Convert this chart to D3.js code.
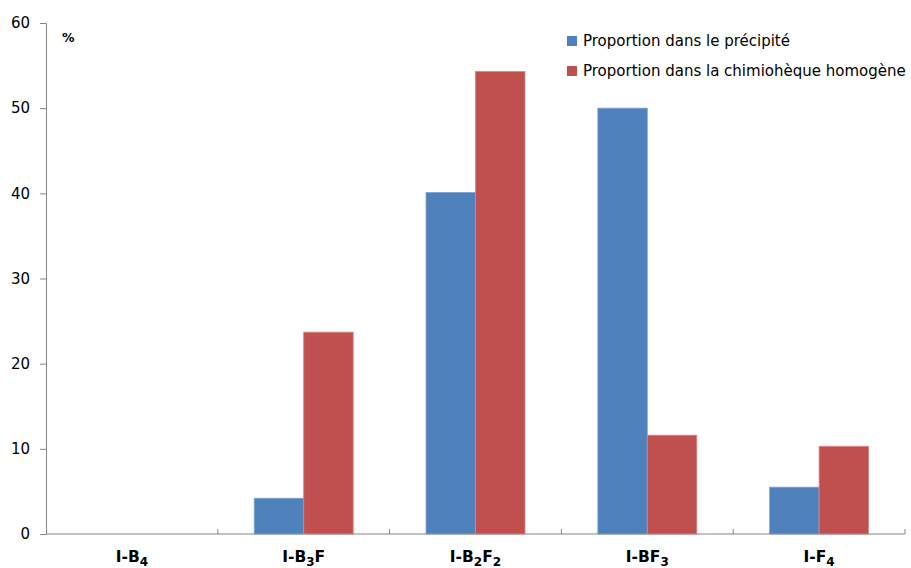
<!DOCTYPE html>
<html><head><meta charset="utf-8">
<script src="https://cdn.jsdelivr.net/npm/d3@7"></script>
<style>body{margin:0;background:#fff}svg{display:block}text{font-family:"DejaVu Sans",Verdana,sans-serif}</style>
</head><body>
<script>
const categories = ["I-B4", "I-B3F", "I-B2F2", "I-BF3", "I-F4"];
// label parts: [text, isSubscript]
const categoryLabels = [
  [["I-B",0],["4",1]],
  [["I-B",0],["3",1],["F",0]],
  [["I-B",0],["2",1],["F",0],["2",1]],
  [["I-BF",0],["3",1]],
  [["I-F",0],["4",1]]
];
const seriesNames = ["Proportion dans le précipité", "Proportion dans la chimiohèque homogène"];
const precipite = [0, 4.2, 40.1, 50.0, 5.5];
const chimiotheque = [0, 23.7, 54.3, 11.6, 10.3];
const yTicks = [0, 10, 20, 30, 40, 50, 60];
const colors = ["#4F81BD", "#C0504D"];
const strokes = ["#7FA3D4", "#D98583"];

const W = 911, H = 568;
const m = {left: 46, right: 6, top: 23, bottom: 34};
const svg = d3.select("body").append("svg").attr("width", W).attr("height", H);

const x = d3.scaleBand().domain(categories).range([m.left, W - m.right]).paddingInner(0.424).paddingOuter(0.212);
const x0 = d3.scaleBand().domain(categories).range([m.left, W - m.right]);
const xs = d3.scaleBand().domain([0, 1]).range([0, x.bandwidth()]);
const y = d3.scaleLinear().domain([0, 60]).range([H - m.bottom, m.top]);

// bars
const series = [precipite, chimiotheque];
series.forEach((vals, si) => {
  svg.append("g").selectAll("rect").data(categories.map((c, i) => ({c, v: vals[i]}))).join("rect")
    .attr("x", d => x(d.c) + xs(si))
    .attr("y", d => y(d.v))
    .attr("width", xs.bandwidth())
    .attr("height", d => y(0) - y(d.v))
    .attr("fill", colors[si])
    .attr("stroke", d => d.v > 0 ? strokes[si] : "none")
    .attr("stroke-width", 0.8);
});

// y axis
const yAxis = svg.append("g").attr("transform", `translate(${m.left},0)`)
  .call(d3.axisLeft(y).tickValues(yTicks).tickSize(6).tickPadding(10).tickFormat(d3.format("d")));
yAxis.select(".domain").attr("stroke", "#868686");
yAxis.selectAll(".tick line").attr("stroke", "#868686");
yAxis.selectAll(".tick text").attr("font-size", 15).attr("fill", "#000");

// x axis
const xAxis = svg.append("g").attr("transform", `translate(0,${y(0)})`);
xAxis.append("line").attr("x1", m.left).attr("x2", W - m.right).attr("stroke", "#868686");
xAxis.selectAll("line.t").data(categories).join("line").attr("class", "t")
  .attr("x1", d => x0(d) + x0.bandwidth()).attr("x2", d => x0(d) + x0.bandwidth())
  .attr("y1", 0).attr("y2", -5).attr("stroke", "#868686");
xAxis.selectAll("text").data(categories).join("text")
  .attr("x", d => x0(d) + x0.bandwidth() / 2)
  .attr("y", 28)
  .attr("text-anchor", "middle")
  .attr("font-size", 15.5).attr("font-weight", "bold")
  .each(function(d, i) {
    const t = d3.select(this);
    let shifted = false;
    categoryLabels[i].forEach(([s, sub]) => {
      const ts = t.append("tspan").text(s).attr("font-size", sub ? 12 : 15.5);
      if (sub && !shifted) { ts.attr("dy", 4); shifted = true; }
      else if (!sub && shifted) { ts.attr("dy", -4); shifted = false; }
    });
  });

// % label
svg.append("text").attr("x", 62).attr("y", 42).attr("font-size", 12.5).attr("font-weight", "bold").text("%");

// legend
const lg = svg.append("g").attr("transform", "translate(567,36)");
seriesNames.forEach((n, i) => {
  lg.append("rect").attr("x", 0).attr("y", i * 30).attr("width", 10).attr("height", 10).attr("fill", colors[i]);
  lg.append("text").attr("x", 16).attr("y", i * 30 + 10).attr("font-size", 15).attr("fill", "#000").text(n);
});
</script>
</body></html>
